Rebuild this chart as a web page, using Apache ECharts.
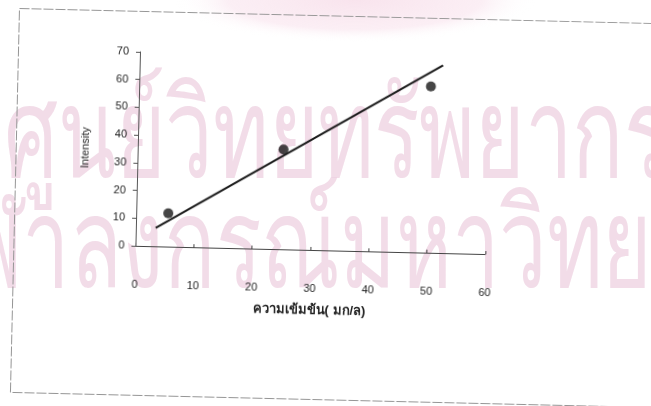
<!DOCTYPE html>
<html>
<head>
<meta charset="utf-8">
<script src="https://cdn.jsdelivr.net/npm/echarts@6/dist/echarts.min.js"></script>
<style>
  html, body { margin: 0; padding: 0; background: #ffffff; overflow: hidden; }
  #paper { position: absolute; left: 0; top: 0; width: 651px; height: 406px; }
  #sheet {
    position: absolute; left: 19px; top: 8px; width: 680px; height: 386px;
    transform-origin: 0 0; transform: rotate(1.35deg);
  }
</style>
</head>
<body>
<div id="paper"></div>
<div id="sheet"></div>
<script>
// Calibration measurements: concentration (mg/L) vs emission intensity
const concentration = [5.5, 25, 50];
const intensity = [12, 36, 60];

// Calibration line, drawn between its two end points
const fitConcentration = [3.4, 52];
const fitIntensity = [6.6, 67.7];

// Axis ranges and tick spacing
const xRange = [0, 60];
const xStep = 10;
const yRange = [0, 70];
const yStep = 10;

// Axis titles
const xTitle = 'ความเข้มข้น( มก/ล)';
const yTitle = 'Intensity';

// Library stamp printed across the page
const stampLines = ['ศูนย์วิทยทรัพยากร', 'จุฬาลงกรณ์มหาวิทยาลัย'];

// ---- background page with the stamp ----
const stampFill = 'rgba(234,196,216,0.6)';
const paper = echarts.init(document.getElementById('paper'), null, { renderer: 'canvas' });
paper.setOption({
  animation: false,
  graphic: [
    {
      // soft pink glow of the emblem at the top edge
      type: 'circle', x: 355, y: 0, scaleX: 4.3,
      shape: { cx: 0, cy: 0, r: 42 },
      style: {
        fill: {
          type: 'radial', x: 0.5, y: 0.5, r: 0.5,
          colorStops: [
            { offset: 0, color: 'rgba(248,226,236,0.95)' },
            { offset: 0.7, color: 'rgba(250,233,241,0.75)' },
            { offset: 1, color: 'rgba(255,255,255,0)' }
          ]
        }
      },
      silent: true
    },
    {
      type: 'text', x: 4, y: 79, scaleX: 0.68,
      style: { text: stampLines[0], font: '125px "Noto Sans", sans-serif', fill: stampFill },
      silent: true
    },
    {
      type: 'text', x: -85, y: 189, scaleX: 0.68,
      style: { text: stampLines[1], font: '125px "Noto Sans", sans-serif', fill: stampFill },
      silent: true
    }
  ]
});

// ---- chart sheet ----
const chart = echarts.init(document.getElementById('sheet'), null, { renderer: 'canvas' });
const axisText = { fontFamily: '"Liberation Sans", Arial, sans-serif', fontSize: 11, color: '#222' };

chart.setOption({
  animation: false,
  backgroundColor: 'transparent',
  graphic: [{
    type: 'rect',
    shape: { x: 0.5, y: 0.5, width: 690, height: 384 },
    style: { fill: 'none', stroke: '#959595', lineWidth: 1, lineDash: [10, 2] },
    silent: true
  }],
  grid: { left: 122, top: 41, width: 350, height: 194, containLabel: false },
  xAxis: {
    type: 'value', min: xRange[0], max: xRange[1], interval: xStep,
    name: xTitle, nameLocation: 'middle', nameGap: 54,
    nameTextStyle: { fontFamily: '"Liberation Sans", Arial, sans-serif', fontSize: 13, fontWeight: 'bold', color: '#222' },
    axisLine: { lineStyle: { color: '#444', width: 1 } },
    axisTick: { inside: true, length: 3, lineStyle: { color: '#444' } },
    axisLabel: Object.assign({ margin: 33 }, axisText),
    splitLine: { show: false }
  },
  yAxis: {
    type: 'value', min: yRange[0], max: yRange[1], interval: yStep,
    name: yTitle, nameLocation: 'middle', nameGap: 47, nameRotate: 90,
    nameTextStyle: { fontFamily: '"Liberation Sans", Arial, sans-serif', fontSize: 11, color: '#222' },
    axisLine: { show: true, lineStyle: { color: '#555', width: 1 } },
    axisTick: { show: true, inside: false, length: 4, lineStyle: { color: '#555' } },
    axisLabel: Object.assign({ margin: 11 }, axisText),
    splitLine: { show: false }
  },
  series: [
    {
      name: 'fit', type: 'line',
      data: fitConcentration.map((x, i) => [x, fitIntensity[i]]),
      symbol: 'none',
      lineStyle: { color: '#1b1b1b', width: 2 },
      z: 2
    },
    {
      name: 'measured', type: 'scatter',
      data: concentration.map((x, i) => [x, intensity[i]]),
      symbol: 'circle', symbolSize: 10,
      itemStyle: { color: '#161616' },
      z: 3
    }
  ]
});
</script>
</body>
</html>
